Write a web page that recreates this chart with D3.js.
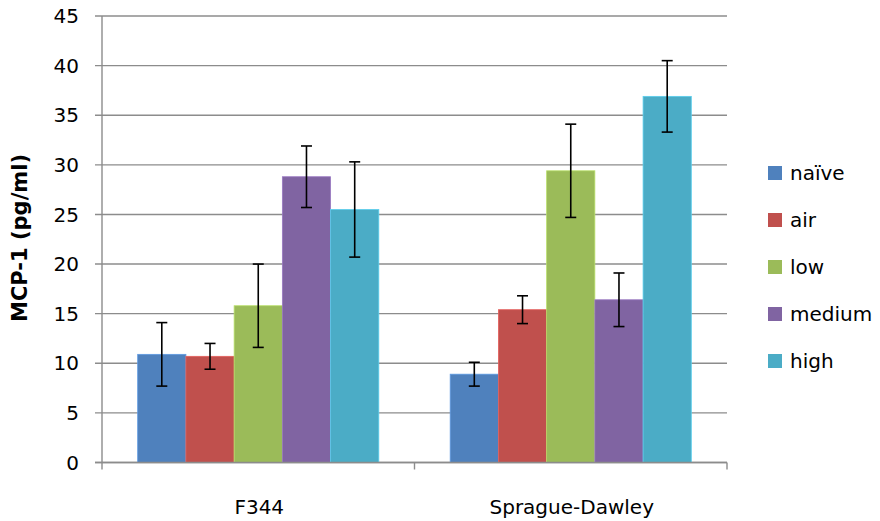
<!DOCTYPE html>
<html>
<head>
<meta charset="utf-8">
<script src="https://cdn.jsdelivr.net/npm/d3@7/dist/d3.min.js"></script>
<style>
  html, body { margin: 0; padding: 0; background: #fff; }
  svg { display: block; font-family: "DejaVu Sans", sans-serif; }
</style>
</head>
<body>
<svg id="chart" width="880" height="521"></svg>
<script>
const categories = ["F344", "Sprague-Dawley"];
const seriesNames = ["naïve", "air", "low", "medium", "high"];
const seriesColors = ["#4F81BD", "#C0504D", "#9BBB59", "#8064A2", "#4BACC6"];
const naive  = [10.9, 8.9];
const air    = [10.7, 15.4];
const low    = [15.8, 29.4];
const medium = [28.8, 16.4];
const high   = [25.5, 36.9];
const errNaive  = [3.2, 1.2];
const errAir    = [1.3, 1.4];
const errLow    = [4.2, 4.7];
const errMedium = [3.1, 2.7];
const errHigh   = [4.8, 3.6];
const yTicks = [0, 5, 10, 15, 20, 25, 30, 35, 40, 45];

const values = [naive, air, low, medium, high];
const errors = [errNaive, errAir, errLow, errMedium, errHigh];

const svg = d3.select("#chart");
const pLeft = 102, pRight = 727, pTop = 16, pBottom = 462.5;

const x0 = d3.scaleBand().domain(categories).range([pLeft, pRight]).paddingInner(0).paddingOuter(0);
const x1 = d3.scaleBand().domain(seriesNames).range([0, x0.bandwidth()]).paddingOuter(0.74).paddingInner(0);
const y = d3.scaleLinear().domain([0, 45]).range([pBottom, pTop]);

const grid = "#8c8c8c";

// gridlines + left ticks
svg.append("g").selectAll("line").data(yTicks).join("line")
  .attr("x1", pLeft - 7).attr("x2", pRight)
  .attr("y1", d => y(d)).attr("y2", d => y(d))
  .attr("stroke", grid).attr("stroke-width", 1.4);

// y tick labels
svg.append("g").selectAll("text").data(yTicks).join("text")
  .attr("x", 79).attr("y", d => y(d)).attr("dy", "0.36em")
  .attr("text-anchor", "end").attr("font-size", 20).attr("fill", "#000")
  .text(d => d);

// y axis line
svg.append("line").attr("x1", pLeft).attr("x2", pLeft).attr("y1", pTop).attr("y2", pBottom + 7)
  .attr("stroke", grid).attr("stroke-width", 1.4);

// category ticks
const catEdges = [x0(categories[1]), pRight];
svg.append("g").selectAll("line").data(catEdges).join("line")
  .attr("x1", d => d).attr("x2", d => d).attr("y1", pBottom).attr("y2", pBottom + 7)
  .attr("stroke", grid).attr("stroke-width", 1.4);

// bars
const barData = [];
categories.forEach((c, ci) => {
  seriesNames.forEach((s, si) => {
    barData.push({ c, s, si, v: values[si][ci], e: errors[si][ci] });
  });
});

svg.append("g").selectAll("rect").data(barData).join("rect")
  .attr("x", d => x0(d.c) + x1(d.s))
  .attr("width", x1.bandwidth())
  .attr("y", d => y(d.v))
  .attr("height", d => y(0) - y(d.v))
  .attr("fill", d => seriesColors[d.si])
  .attr("stroke", d => d3.color(seriesColors[d.si]).brighter(0.5))
  .attr("stroke-width", 0.8);

// redraw baseline over bars
svg.append("line").attr("x1", pLeft - 7).attr("x2", pRight).attr("y1", y(0)).attr("y2", y(0))
  .attr("stroke", grid).attr("stroke-width", 1.4);

// error bars
const eb = svg.append("g").attr("stroke", "#000").attr("stroke-width", 1.6);
barData.forEach(d => {
  const cx = x0(d.c) + x1(d.s) + x1.bandwidth() / 2;
  const yt = y(d.v + d.e), yb = y(d.v - d.e);
  eb.append("line").attr("x1", cx).attr("x2", cx).attr("y1", yt).attr("y2", yb);
  eb.append("line").attr("x1", cx - 5.5).attr("x2", cx + 5.5).attr("y1", yt).attr("y2", yt);
  eb.append("line").attr("x1", cx - 5.5).attr("x2", cx + 5.5).attr("y1", yb).attr("y2", yb);
});

// x labels
svg.append("g").selectAll("text").data(categories).join("text")
  .attr("x", d => x0(d) + x0.bandwidth() / 2 + 1).attr("y", 514)
  .attr("text-anchor", "middle").attr("font-size", 20).attr("fill", "#000")
  .text(d => d);

// y title
svg.append("text")
  .attr("transform", "translate(27,238) rotate(-90)")
  .attr("text-anchor", "middle").attr("font-size", 21).attr("font-weight", "bold")
  .attr("fill", "#000").text("MCP-1 (pg/ml)");

// legend
const legendY = d3.scalePoint().domain(seriesNames).range([173, 361]);
const lg = svg.append("g");
lg.selectAll("rect").data(seriesNames).join("rect")
  .attr("x", 768).attr("y", d => legendY(d) - 7).attr("width", 14).attr("height", 14)
  .attr("fill", (d, i) => seriesColors[i]);
lg.selectAll("text").data(seriesNames).join("text")
  .attr("x", 790).attr("y", d => legendY(d)).attr("dy", "0.36em")
  .attr("font-size", 20).attr("fill", "#000").text(d => d);
</script>
</body>
</html>
